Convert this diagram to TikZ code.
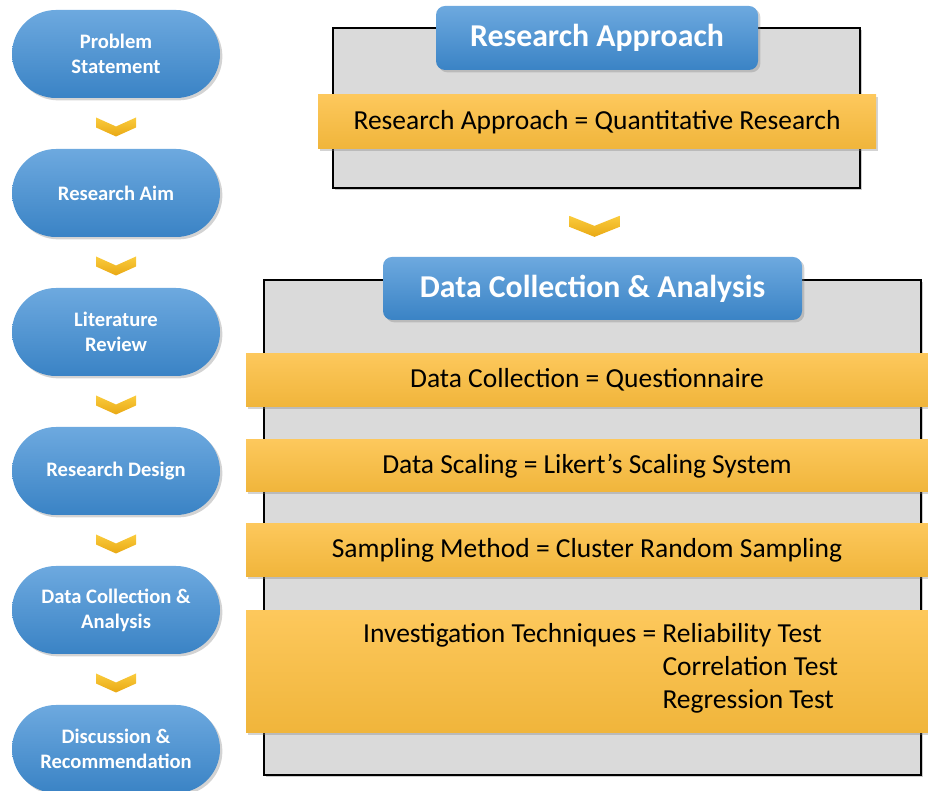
\documentclass[tikz,border=0pt]{standalone}
\usepackage{fontspec}
\setmainfont{Carlito}
\usetikzlibrary{positioning,calc,shadows}
\definecolor{bluetop}{HTML}{6DA9DF}
\definecolor{bluebot}{HTML}{3A83C5}
\definecolor{ylwtop}{HTML}{FDC85C}
\definecolor{ylwbot}{HTML}{F0B53B}
\definecolor{chevtop}{HTML}{FACB3C}
\definecolor{chevbot}{HTML}{E9A915}
\definecolor{framefill}{HTML}{DADADA}

\begin{document}
\begin{tikzpicture}[x=1pt, y=1pt, node distance = {139pt},
	pill/.style = {top color=bluetop, bottom color=bluebot, draw=none, rounded corners=44pt,
		minimum width=208pt, minimum height=88pt, text=white, align=center,
		font=\fontsize{20.6}{25}\selectfont\bfseries, drop shadow={opacity=0.35}},
	tab/.style = {top color=bluetop, bottom color=bluebot, draw=none, rounded corners=9pt,
		text=white, font=\fontsize{31.8}{36}\selectfont\bfseries, drop shadow={opacity=0.35}},
	frame/.style = {draw=black, line width=2pt, fill=framefill, drop shadow={opacity=0.4}},
	bar/.style = {top color=ylwtop, bottom color=ylwbot, draw=none, minimum width=682pt,
		font=\fontsize{27.5}{33}\selectfont, drop shadow={opacity=0.35}},
	chev/.style = {top color=chevtop, bottom color=chevbot, draw=none}]
	\useasboundingbox (0,0) rectangle (928,791);
	\node[pill] (p1) at (116,737) {Problem\\Statement};
	\node[pill] (p2) [below of=p1] {Research Aim};
	\node[pill] (p3) [below of=p2] {Literature\\Review};
	\node[pill] (p4) [below of=p3] {Research Design};
	\node[pill] (p5) [below of=p4] {Data Collection \&\\Analysis};
	\node[pill] (p6) [below of=p5] {Discussion \&\\Recommendation};
	\foreach \a/\b in {p1/p2, p2/p3, p3/p4, p4/p5, p5/p6}
		\path[chev] ($(\a.south)!0.5!(\b.north)$) ++(-20,6) -- ++(20,-9) -- ++(20,9)
			-- ++(0,-10) -- ++(-20,-9) -- ++(-20,9) -- cycle;
	\node[frame, minimum width=527pt, minimum height=160pt] (raframe) at (596.5,683) {};
	\node[tab, minimum width=322pt, minimum height=64pt] (ratab) at (597,753) {Research Approach};
	\node[bar, minimum width=558pt, minimum height=54pt] (rabar) at (597,669)
		{Research Approach = Quantitative Research};
	\node[frame, minimum width=657pt, minimum height=495pt] (dcframe) at (592.5,263.5) {};
	\node[tab, minimum width=419pt, minimum height=63pt] (dctab) at (592.5,502.5)
		{Data Collection \& Analysis};
	\path[chev] ($(raframe.south)!0.5!(dctab.north)$) ++(-25,7) -- ++(25,-10) -- ++(25,10)
		-- ++(0,-11) -- ++(-25,-10) -- ++(-25,10) -- cycle;
	\node[bar, minimum height=53pt] (b1) at (587,411) {Data Collection = Questionnaire};
	\node[bar, minimum height=52pt] (b2) at (587,325) {Data Scaling = Likert's Scaling System};
	\node[bar, minimum height=53pt] (b3) at (587,241) {Sampling Method = Cluster Random Sampling};
	\node[bar, minimum height=122pt] (b4) at (587,119) {};
	\node[font=\fontsize{27.5}{33}\selectfont, inner sep=0pt, anchor=west] (inv) at (363,122)
		{\begin{tabular}{@{}r@{\ }l@{}}
			Investigation Techniques = & Reliability Test\\
			& Correlation Test\\
			& Regression Test
		\end{tabular}};
\end{tikzpicture}
\end{document}
